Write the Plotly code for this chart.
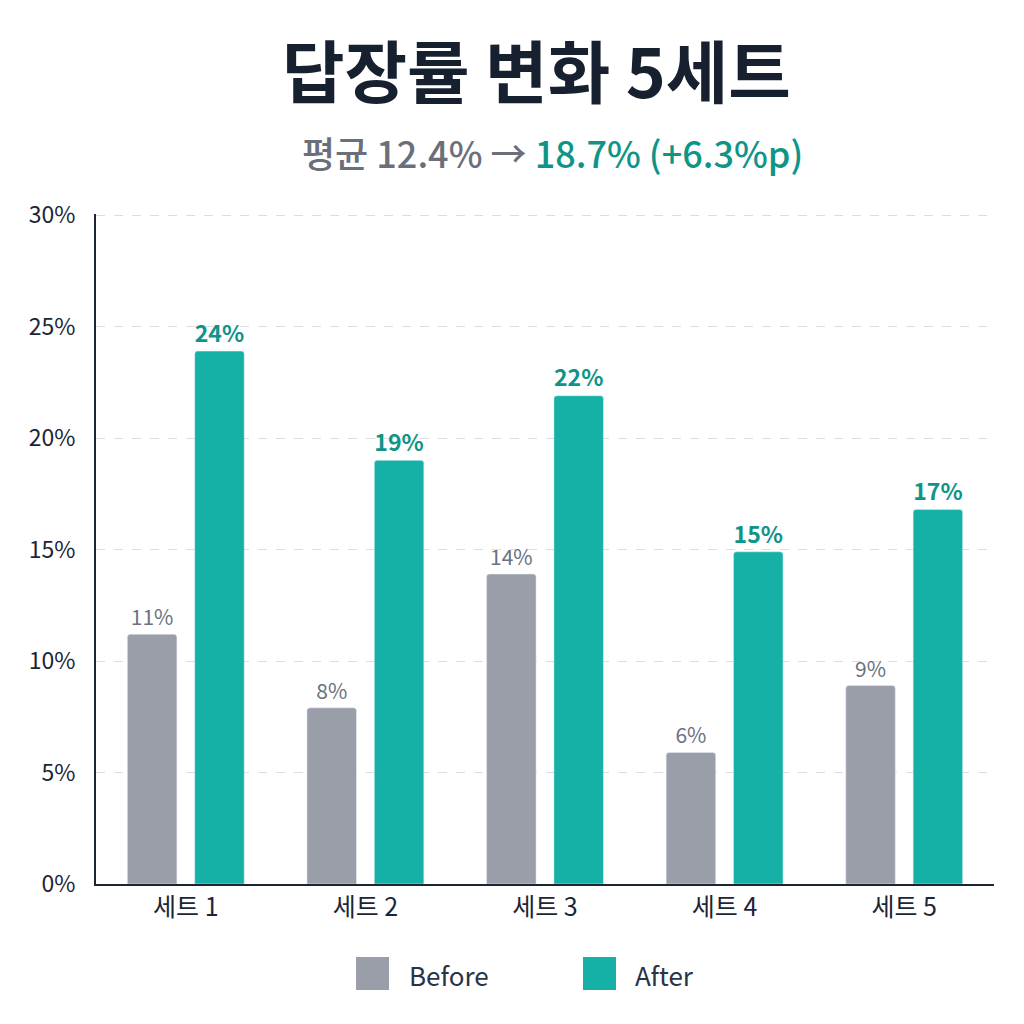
import plotly.graph_objects as go

categories = ["세트 1", "세트 2", "세트 3", "세트 4", "세트 5"]
before_vals = [11.2, 7.9, 13.9, 5.9, 8.9]
after_vals = [23.9, 19.0, 21.9, 14.9, 16.8]
before_labels = ["11%", "8%", "14%", "6%", "9%"]
after_labels = ["24%", "19%", "22%", "15%", "17%"]
y_ticks = [0, 5, 10, 15, 20, 25, 30]
y_tick_text = ["0%", "5%", "10%", "15%", "20%", "25%", "30%"]

FONT = "Noto Sans CJK KR, Noto Sans, sans-serif"
GRAY = "#9A9EA8"
TEAL = "#16B1A6"
DARK = "#1C2536"

fig = go.Figure()
fig.add_trace(go.Bar(
    x=categories, y=before_vals, name="Before",
    marker=dict(color=GRAY),
    text=before_labels, textposition="outside", cliponaxis=False,
    textfont=dict(family=FONT, size=21, color="#6B7280"),
    showlegend=False,
))
fig.add_trace(go.Bar(
    x=categories, y=after_vals, name="After",
    marker=dict(color=TEAL),
    text=after_labels, textposition="outside", cliponaxis=False,
    textfont=dict(family=FONT, size=26, color="#0F9488", weight=600),
    showlegend=False,
))

W, H = 1024, 1024
l, r, t, b = 96, 30, 214, 140
pw, ph = W - l - r, H - t - b

def px_x(v):
    return (v - l) / pw

def px_y(v):
    return (H - b - v) / ph

fig.update_layout(
    width=W, height=H,
    paper_bgcolor="white", plot_bgcolor="white",
    margin=dict(l=l, r=r, t=t, b=b),
    barmode="group", bargap=0.25, bargroupgap=0.265, barcornerradius=3,
    font=dict(family=FONT, color=DARK),
    xaxis=dict(
        showline=True, linecolor=DARK, linewidth=2,
        tickfont=dict(size=25, color=DARK), ticks="",
        showgrid=False,
    ),
    yaxis=dict(
        range=[0, 30.05], tickvals=y_ticks, ticktext=y_tick_text,
        showline=True, linecolor=DARK, linewidth=2,
        showgrid=True, gridcolor="#DCDDE0", griddash="dash", gridwidth=1,
        zeroline=False, ticks="", ticklabelstandoff=14,
        tickfont=dict(size=23, color=DARK),
    ),
    annotations=[
        dict(text="<b>답장률 변화 5세트</b>", x=px_x(536), y=px_y(69), xref="paper", yref="paper",
             showarrow=False, yanchor="middle", font=dict(size=68, color="#16202F")),
        dict(text="<span style='color:#6B6F7A'>평균 12.4% →</span> <span style='color:#0F9488'>18.7% (+6.3%p)</span>",
             x=px_x(552), y=px_y(152), xref="paper", yref="paper", showarrow=False,
             yanchor="middle", font=dict(size=36, weight=500)),
        dict(text="Before", x=px_x(407), y=px_y(974), xref="paper", yref="paper", showarrow=False,
             xanchor="left", yanchor="middle", font=dict(size=26, color="#2B3447")),
        dict(text="After", x=px_x(633), y=px_y(974), xref="paper", yref="paper", showarrow=False,
             xanchor="left", yanchor="middle", font=dict(size=26, color="#2B3447")),
    ],
)

for x0, col in [(356, GRAY), (583, TEAL)]:
    fig.add_shape(type="rect", xref="paper", yref="paper",
                  x0=px_x(x0), x1=px_x(x0 + 33), y0=px_y(990), y1=px_y(957),
                  fillcolor=col, line=dict(width=0))

fig.write_html("out.html")
